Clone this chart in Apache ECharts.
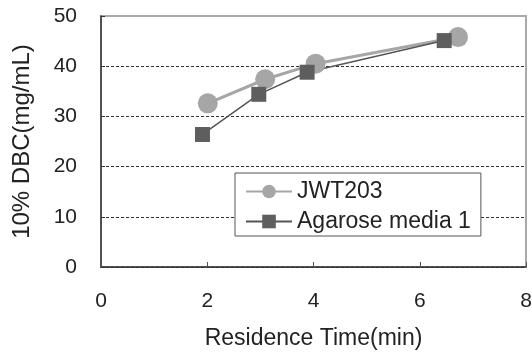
<!DOCTYPE html>
<html>
<head>
<meta charset="utf-8">
<script src="https://cdn.jsdelivr.net/npm/echarts@6/dist/echarts.min.js"></script>
<style>
  html, body { margin: 0; padding: 0; background: #fff; }
  #chart { width: 532px; height: 354px; }
</style>
</head>
<body>
<div id="chart"></div>
<script>
// 数据
var seriesNames = ["JWT203", "Agarose media 1"];
var jwtTime = [2.01, 3.09, 4.04, 6.72];
var jwtDbc = [32.6, 37.4, 40.5, 45.8];
var agaroseTime = [1.91, 2.97, 3.88, 6.46];
var agaroseDbc = [26.4, 34.4, 38.8, 45.1];

function pairs(xs, ys) {
  return xs.map(function (x, i) {
    return [x, ys[i]];
  });
}

var myChart = echarts.init(document.getElementById("chart"));
var font = "Liberation Sans, Arial, sans-serif";
var option = {
  backgroundColor: "#fff",
  animation: false,
  grid: {
    left: 101,
    right: 6,
    top: 16,
    bottom: 87,
    outerBoundsMode: "none",
    show: true,
    borderColor: "#aaa",
    borderWidth: 2,
  },
  legend: {
    left: 235,
    top: 173,
    orient: "vertical",
    data: seriesNames,
    itemWidth: 46,
    itemHeight: 17,
    itemGap: 7,
    padding: [7, 10, 3, 10],
    borderColor: "#555",
    borderWidth: 1,
    backgroundColor: "#fff",
    textStyle: { fontFamily: font, fontSize: 23, color: "#222" },
  },
  xAxis: {
    type: "value",
    min: 0,
    max: 8,
    interval: 2,
    name: "Residence Time(min)",
    nameLocation: "middle",
    nameGap: 60,
    nameTextStyle: { fontFamily: font, fontSize: 23, color: "#222" },
    axisLine: { lineStyle: { color: "#333", width: 1.5 } },
    axisTick: { inside: true, length: 5, lineStyle: { color: "#555" } },
    axisLabel: { fontFamily: font, fontSize: 21, color: "#222", margin: 24 },
    splitLine: { show: false },
  },
  yAxis: {
    type: "value",
    min: 0,
    max: 50,
    interval: 10,
    name: "10% DBC(mg/mL)",
    nameLocation: "middle",
    nameGap: 67,
    nameTextStyle: { fontFamily: font, fontSize: 24, color: "#222" },
    axisLine: { show: true, lineStyle: { color: "#333", width: 1.5 } },
    axisTick: { show: true, inside: true, length: 4, lineStyle: { color: "#333" } },
    axisLabel: { fontFamily: font, fontSize: 21, color: "#222", margin: 24 },
    splitLine: {
      show: true,
      showMaxLine: false,
      lineStyle: { color: "#333", type: [3, 2], width: 1 },
    },
  },
  series: [
    {
      name: seriesNames[0],
      type: "line",
      data: pairs(jwtTime, jwtDbc),
      symbol: "circle",
      symbolSize: 20,
      itemStyle: { color: "#a6a6a6" },
      lineStyle: { color: "#a6a6a6", width: 3 },
    },
    {
      name: seriesNames[1],
      type: "line",
      data: pairs(agaroseTime, agaroseDbc),
      symbol: "rect",
      symbolSize: 15,
      itemStyle: { color: "#5e5e5e" },
      lineStyle: { color: "#555", width: 1.5 },
    },
  ],
};
myChart.setOption(option);
</script>
</body>
</html>
